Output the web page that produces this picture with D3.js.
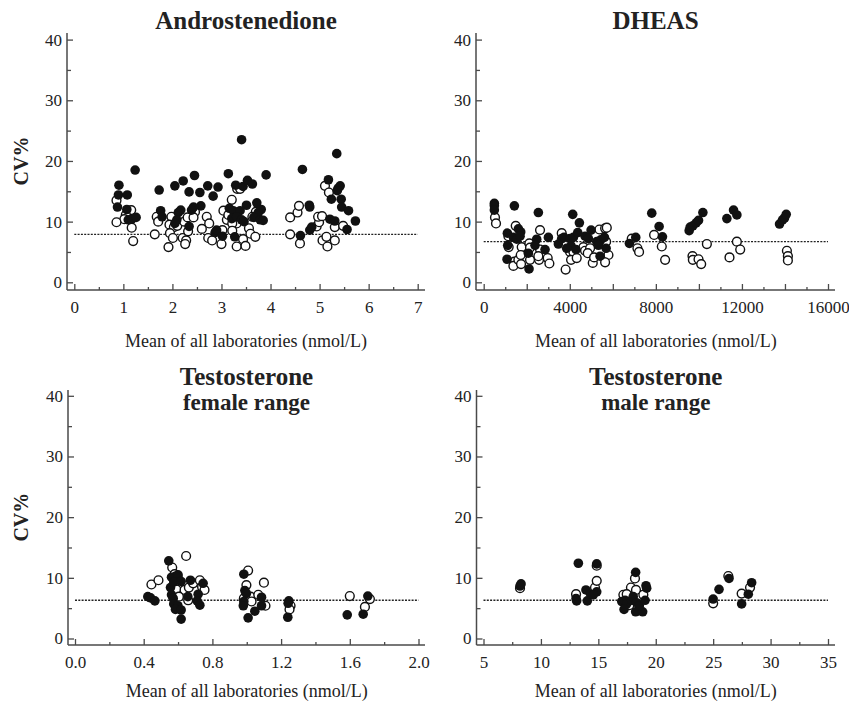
<!DOCTYPE html>
<html>
<head>
<meta charset="utf-8">
<script src="https://cdn.jsdelivr.net/npm/d3@7"></script>
<style>
  body { margin: 0; background: #fff; }
  text { font-family: "Liberation Serif", "Times New Roman", serif; fill: #222; }
</style>
</head>
<body>
<div id="chart"></div>
<script>
// ---- data: [mean, CV%] ----
const androFilled = [
  [0.91,16.0],[0.90,14.4],[1.08,14.4],[0.88,12.4],[1.07,12.0],[1.10,10.3],[1.17,10.4],[1.26,10.7],[1.24,18.5],
  [1.73,15.2],[1.76,11.8],[1.79,10.8],
  [2.05,15.9],[2.22,16.7],[2.45,17.6],[2.34,14.9],[2.56,14.8],[2.58,12.6],[2.43,12.4],[2.39,11.9],[2.17,11.9],
  [2.12,11.5],[2.09,10.3],[2.05,9.7],[2.34,9.2],
  [2.72,15.9],[2.93,15.7],[2.83,14.2],[2.87,8.2],[2.90,8.6],[3.02,7.6],
  [3.14,17.9],[3.41,23.5],[3.29,16.0],[3.44,15.8],[3.53,16.8],[3.63,16.2],[3.51,12.7],[3.16,12.2],[3.24,11.8],
  [3.38,11.8],[3.21,10.5],[3.31,10.8],[3.41,10.3],[3.46,10.0],[3.27,7.5],
  [3.72,13.1],[3.91,17.7],[3.81,12.0],[3.75,11.5],[3.66,10.7],[3.79,10.3],[3.85,10.2],
  [4.65,18.6],[4.79,12.7],[4.80,12.4],[4.61,7.7],[4.80,8.6],[4.84,9.1],
  [5.35,21.2],[5.18,16.9],[5.38,15.5],[5.42,15.9],[5.36,15.1],[5.24,13.7],[5.44,13.7],[5.45,12.4],[5.59,11.8],
  [5.21,10.4],[5.31,10.1],[5.56,8.7],[5.73,10.1]
];
const androOpen = [
  [0.86,13.5],[1.16,11.9],[1.05,11.1],[1.02,10.4],[0.86,9.9],[1.17,9.0],[1.20,6.8],
  [1.68,10.8],[1.71,10.0],[1.64,7.9],
  [1.98,10.8],[1.94,9.5],[2.03,9.1],[2.10,9.3],[1.95,8.1],[2.01,7.3],[1.92,5.8],[2.21,7.3],[2.28,6.9],[2.26,6.3],
  [2.24,10.0],[2.31,10.7],[2.46,11.6],[2.43,10.7],[2.32,8.4],[2.60,8.8],[2.70,10.8],
  [2.75,9.7],[2.73,7.3],[2.81,6.9],[3.02,8.6],[3.00,6.3],[3.04,11.8],
  [3.32,15.4],[3.38,15.4],[3.21,13.6],[3.11,10.3],[3.14,11.1],[3.31,9.7],[3.22,9.7],[3.31,5.9],[3.44,7.1],
  [3.49,6.0],[3.56,8.9],[3.59,8.0],[3.69,7.5],[3.22,8.5],[3.70,11.6],[3.63,10.8],
  [4.40,10.7],[4.55,11.5],[4.58,12.6],[4.40,7.9],[4.60,6.4],[4.94,9.2],[4.99,9.9],[4.97,10.8],[5.05,10.9],
  [5.06,6.9],[5.14,7.5],[5.16,5.9],[5.31,6.9],[5.11,15.9],[5.19,14.8],[5.31,9.1],[5.48,9.3]
];

const dheasFilled = [
  [495,13.0],[495,12.6],[495,11.9],
  [1426,12.6],[1612,8.8],[1720,8.3],[1100,8.1],[1380,7.4],[1535,7.1],[1690,7.6],[1116,6.1],[1085,3.8],
  [2540,11.5],[3006,7.4],[2463,7.1],[2385,6.1],[2075,4.8],[2851,5.4],[2107,2.2],
  [3471,6.3],[3626,7.2],[3734,7.4],[4137,11.2],[4447,9.8],[4013,7.2],[4168,7.4],[4370,8.2],[4711,7.6],
  [4990,8.6],[4866,7.2],[4060,6.0],[4292,5.4],[3855,5.6],[5440,7.0],[5254,6.7],[5611,7.4],[5689,5.6],
  [5409,4.3],[5331,6.1],
  [6772,6.4],[7066,7.4],
  [7810,11.4],[8152,9.2],[8307,7.5],
  [9548,8.5],[9595,9.1],[9719,9.3],[9874,9.8],[9983,10.2],[10185,11.5],
  [11300,10.5],[11610,11.9],[11765,11.1],
  [13748,9.6],[13888,10.3],[13981,10.6],[14058,11.2]
];
const dheasOpen = [
  [525,10.7],[572,9.7],
  [1488,9.3],[1147,7.6],[1160,5.8],[1766,5.8],[1426,3.4],[1380,2.7],[1612,3.7],[1720,4.5],[1735,3.0],
  [2618,8.6],[2122,6.4],[2153,5.7],[2618,5.4],[2153,3.7],[2571,3.7],[2974,4.0],[3052,3.1],[2540,4.3],
  [3626,8.1],[4013,5.0],[4168,5.0],[3808,2.1],[4060,3.7],[4323,4.0],[4633,5.8],[4711,5.2],[4944,5.6],
  [4835,4.8],[5068,3.2],[5130,4.1],[5378,8.7],[5642,8.9],[5720,9.0],[5689,6.7],[5797,4.5],[5642,3.3],
  [6880,7.2],[7144,5.6],[7221,5.0],
  [7919,7.8],[8276,5.9],[8431,3.7],
  [9704,4.3],[9719,3.7],[9983,3.8],[10107,3.0],[10371,6.3],
  [11765,6.7],[11920,5.4],[11422,4.1],
  [14090,5.2],[14136,4.3],[14136,3.6]
];

const femaleFilled = [
  [0.424,6.9],[0.44,6.7],[0.465,6.2],[0.546,12.8],[0.562,10.1],[0.599,10.2],[0.60,10.5],[0.556,8.4],
  [0.575,9.3],[0.618,9.4],[0.672,9.6],[0.746,9.1],[0.717,7.3],[0.562,7.2],[0.572,6.6],[0.657,6.9],
  [0.575,5.7],[0.599,5.4],[0.585,4.8],[0.618,4.7],[0.618,3.2],[0.711,6.2],[0.727,5.5],
  [0.983,10.6],[0.989,7.9],[0.998,7.4],[0.983,6.1],[0.98,5.4],[1.086,6.8],[1.086,5.4],[1.047,4.5],[1.008,3.4],
  [1.245,6.2],[1.241,5.8],[1.239,3.5],
  [1.585,3.9],[1.678,4.0],[1.705,7.0]
];
const femaleOpen = [
  [0.445,8.9],[0.486,9.6],[0.566,11.7],[0.58,10.6],[0.585,10.2],[0.647,13.6],[0.59,8.1],[0.638,8.0],
  [0.663,8.4],[0.688,9.1],[0.727,9.6],[0.74,8.5],[0.754,8.0],[0.605,6.9],[0.659,6.3],
  [1.008,11.2],[0.998,8.8],[0.983,6.6],[1.022,6.9],[1.028,6.1],[1.067,7.2],[1.10,9.2],[1.109,5.4],
  [1.255,5.4],[1.249,4.8],
  [1.60,7.0],[1.717,6.5],[1.688,5.2]
];

const maleFilled = [
  [8.18,8.65],[8.27,9.0],
  [13.26,12.4],[14.86,12.3],[13.06,6.6],[13.11,6.2],[14.04,6.2],[13.92,8.0],[14.33,7.3],[14.86,7.7],[14.56,7.2],
  [18.25,10.9],[19.15,8.7],[19.21,8.3],[17.33,6.3],[17.04,6.1],[17.47,5.7],[17.24,4.8],[17.9,6.3],[18.04,6.9],
  [18.33,5.9],[18.25,4.4],[18.86,4.4],[18.57,5.4],[19.07,6.3],
  [25.0,6.5],[25.51,8.1],[26.38,9.9],[27.48,5.7],[28.06,7.3],[28.35,9.2]
];
const maleOpen = [
  [8.18,8.3],[14.86,12.0],[13.06,7.3],[14.71,8.4],[14.86,9.5],
  [18.19,9.9],[17.84,8.4],[18.28,8.0],[17.18,7.2],[17.47,7.3],[18.92,7.2],[17.7,5.5],
  [25.0,5.8],[26.32,10.3],[27.48,7.4],[28.21,8.4]
];

const refLines = [7.9, 6.7, 6.3, 6.3];

const cvTicks = [0, 10, 20, 30, 40];
const cvMinor = [5, 15, 25, 35];
const androTicks = [0, 1, 2, 3, 4, 5, 6, 7];
const androMinor = [0.5, 1.5, 2.5, 3.5, 4.5, 5.5, 6.5];
const dheasTicks = [0, 2000, 4000, 6000, 8000, 10000, 12000, 14000, 16000];
const dheasLabels = [0, 4000, 8000, 12000, 16000];
const dheasMinor = [1000, 3000, 5000, 7000, 9000, 11000, 13000, 15000];
const femaleTicks = [0, 0.4, 0.8, 1.2, 1.6, 2.0];
const femaleMinor = [0.2, 0.6, 1.0, 1.4, 1.8];
const maleTicks = [5, 10, 15, 20, 25, 30, 35];
const maleMinor = [7.5, 12.5, 17.5, 22.5, 27.5, 32.5];

const xTitle = "Mean of all laboratories (nmol/L)";

// ---- layout ----
const width = 849, height = 701;
const svg = d3.select("#chart").append("svg")
    .attr("width", width)
    .attr("height", height);

const panels = [
  {title: ["Androstenedione"], filled: androFilled, open: androOpen, ref: refLines[0],
   xDomain: [0, 7], ticks: androTicks, minor: androMinor, fmt: d3.format("d"),
   axisX: 67, xr: [74.3, 417.7], xEnd: 425, axisY: 290, yr: [282.3, 39.6], yTop: 33, titleY: [29], lblGap: 57},
  {title: ["DHEAS"], filled: dheasFilled, open: dheasOpen, ref: refLines[1],
   xDomain: [0, 16000], ticks: dheasTicks, minor: dheasMinor,
   fmt: d => dheasLabels.includes(d) ? String(d) : "",
   axisX: 476, xr: [483.7, 828], xEnd: 835, axisY: 290, yr: [282.3, 39.6], yTop: 33, titleY: [29], lblGap: 57},
  {title: ["Testosterone", "female range"], filled: femaleFilled, open: femaleOpen, ref: refLines[2],
   xDomain: [0, 2], ticks: femaleTicks, minor: femaleMinor, fmt: d3.format(".1f"),
   axisX: 68, xr: [75, 418.5], xEnd: 425, axisY: 645, yr: [638.5, 395.8], yTop: 390, titleY: [385, 410], lblGap: 52},
  {title: ["Testosterone", "male range"], filled: maleFilled, open: maleOpen, ref: refLines[3],
   xDomain: [5, 35], ticks: maleTicks, minor: maleMinor, fmt: d3.format("d"),
   axisX: 476.5, xr: [483.5, 828], xEnd: 835, axisY: 645, yr: [638.5, 395.8], yTop: 390, titleY: [385, 410], lblGap: 52}
];

const axisColor = "#4a4a4a";

panels.forEach((p, i) => {
  const g = svg.append("g");
  const x = d3.scaleLinear().domain(p.xDomain).range(p.xr);
  const y = d3.scaleLinear().domain([0, 40]).range(p.yr);

  // axis lines
  g.append("line")
      .attr("x1", p.axisX).attr("x2", p.axisX)
      .attr("y1", p.yTop).attr("y2", p.axisY)
      .attr("stroke", axisColor).attr("stroke-width", 1.5);
  g.append("line")
      .attr("x1", p.axisX).attr("x2", p.xEnd)
      .attr("y1", p.axisY).attr("y2", p.axisY)
      .attr("stroke", axisColor).attr("stroke-width", 1.5);

  // x axis, ticks pointing up into the plot
  const xAx = g.append("g")
      .attr("transform", `translate(0, ${p.axisY})`)
      .call(d3.axisBottom(x).tickValues(p.ticks).tickFormat(p.fmt).tickSizeInner(-6).tickSizeOuter(0));
  xAx.select(".domain").remove();
  xAx.selectAll("line").attr("stroke", axisColor).attr("stroke-width", 1.3);
  xAx.selectAll("text")
      .attr("y", 23).attr("dy", null)
      .style("font-size", "17px")
      .style("font-family", "'Liberation Serif', 'Times New Roman', serif")
      .attr("fill", "#222");

  const xMin = g.append("g")
      .attr("transform", `translate(0, ${p.axisY})`)
      .call(d3.axisBottom(x).tickValues(p.minor).tickFormat("").tickSizeInner(-3).tickSizeOuter(0));
  xMin.select(".domain").remove();
  xMin.selectAll("line").attr("stroke", axisColor).attr("stroke-width", 1.3);

  // y axis, ticks pointing right
  const yAx = g.append("g")
      .attr("transform", `translate(${p.axisX}, 0)`)
      .call(d3.axisLeft(y).tickValues(cvTicks).tickSizeInner(-6).tickSizeOuter(0).tickPadding(5));
  yAx.select(".domain").remove();
  yAx.selectAll("line").attr("stroke", axisColor).attr("stroke-width", 1.3);
  yAx.selectAll("text")
      .style("font-size", "17px")
      .style("font-family", "'Liberation Serif', 'Times New Roman', serif")
      .attr("fill", "#222");

  const yMin = g.append("g")
      .attr("transform", `translate(${p.axisX}, 0)`)
      .call(d3.axisLeft(y).tickValues(cvMinor).tickFormat("").tickSizeInner(-4).tickSizeOuter(0));
  yMin.select(".domain").remove();
  yMin.selectAll("line").attr("stroke", axisColor).attr("stroke-width", 1.3);

  // reference line
  g.append("line")
      .attr("x1", x(p.xDomain[0])).attr("x2", x(p.xDomain[1]))
      .attr("y1", y(p.ref)).attr("y2", y(p.ref))
      .attr("stroke", "#222").attr("stroke-width", 1.3)
      .attr("stroke-dasharray", "2,1.3");

  // points: open first, filled on top
  g.append("g").selectAll("circle").data(p.open).join("circle")
      .attr("cx", d => x(d[0])).attr("cy", d => y(d[1]))
      .attr("r", 4.4)
      .attr("fill", "#fff").attr("stroke", "#111").attr("stroke-width", 1.4);
  g.append("g").selectAll("circle").data(p.filled).join("circle")
      .attr("cx", d => x(d[0])).attr("cy", d => y(d[1]))
      .attr("r", 4.8)
      .attr("fill", "#111");

  // titles
  const cx = (p.axisX + p.xEnd) / 2;
  p.title.forEach((t, k) => {
    g.append("text")
        .attr("x", cx).attr("y", p.titleY[k])
        .attr("text-anchor", "middle")
        .style("font-size", k === 0 ? "25px" : "23px")
        .style("font-weight", "bold")
        .text(t);
  });

  // x axis title
  g.append("text")
      .attr("x", (p.xr[0] + p.xr[1]) / 2).attr("y", p.axisY + p.lblGap)
      .attr("text-anchor", "middle")
      .style("font-size", "18px")
      .text(xTitle);

  // y axis title (left column only)
  if (i % 2 === 0) {
    const cy = (p.yr[0] + p.yr[1]) / 2;
    g.append("text")
        .attr("transform", `translate(28, ${cy}) rotate(-90)`)
        .attr("text-anchor", "middle")
        .style("font-size", "20px")
        .style("font-weight", "bold")
        .text("CV%");
  }
});
</script>
</body>
</html>
